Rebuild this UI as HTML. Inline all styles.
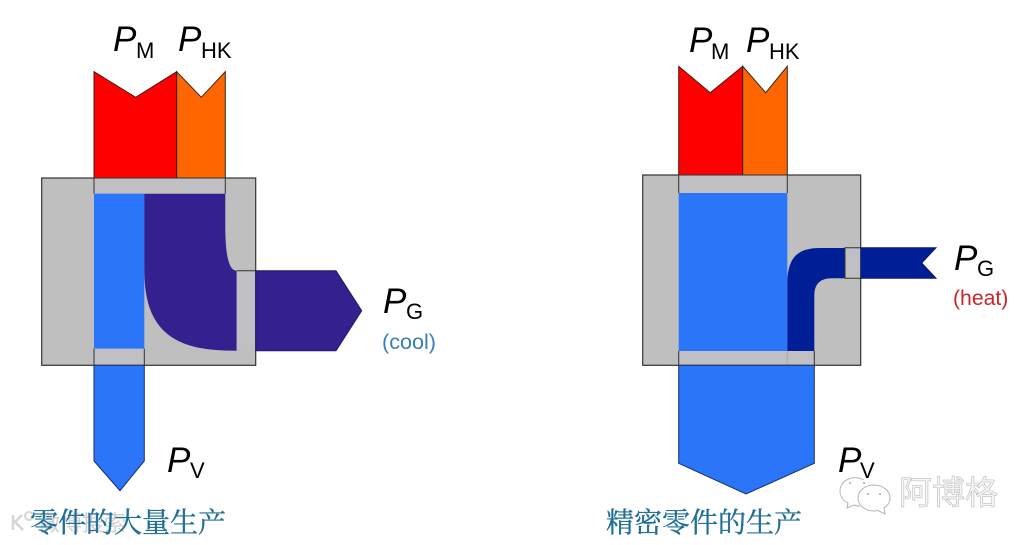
<!DOCTYPE html>
<html>
<head>
<meta charset="utf-8">
<style>
html,body{margin:0;padding:0;background:#fff}
svg{display:block}
.p{font:italic 35px "Liberation Sans",sans-serif;fill:#000}
.s{font:22px "Liberation Sans",sans-serif;fill:#000}
.t{font:28px "Liberation Serif","Noto Serif CJK SC",serif;fill:#1f6e96;stroke:#1f6e96;stroke-width:.35}
</style>
</head>
<body>
<svg width="1031" height="545" viewBox="0 0 1031 545" xmlns="http://www.w3.org/2000/svg">
<rect width="1031" height="545" fill="#fff"/>

<!-- LEFT -->
<g stroke-linejoin="miter">
<rect x="41.7" y="178" width="214" height="187.3" fill="#bfbfbf" stroke="#333" stroke-width="1.2"/>
<path d="M94 178V71.7L135.7 97.3L176.7 71.7V178Z" fill="#ff0000" stroke="#4a1a1a" stroke-width="1"/>
<path d="M176.7 178V71.7L201.3 97.3L225.3 71.7V178Z" fill="#ff6600" stroke="#33261a" stroke-width="1"/>
<rect x="94" y="178" width="131.3" height="15.7" fill="#bfbfc4"/>
<path d="M94 193.7V178H225.3V193.7" fill="none" stroke="#333" stroke-width="1"/>
<rect x="94" y="193.7" width="50.3" height="155" fill="#2b75fb"/>
<path d="M144.3 193.7H225.3V228C225.5 256 229 270.7 236.7 270.7V350.7C205 350.7 181 347 164 331C150 317 144.3 298 144.3 268Z" fill="#35208f"/>
<rect x="236.7" y="270.7" width="19" height="80" fill="#bfbfc4"/>
<path d="M236.7 270.7H255.7V350.7" fill="none" stroke="#333" stroke-width="1"/>
<path d="M255.7 270.7H336L361.7 310.7L336 350.7H255.7Z" fill="#35208f" stroke="#221a60" stroke-width="1"/>
<rect x="94" y="348.7" width="50.3" height="16.6" fill="#bfbfc4"/>
<path d="M94 348.7V365.3H144.3V348.7" fill="none" stroke="#333" stroke-width="1"/>
<path d="M94 365.3H144.3V461L120 490.7L94 461Z" fill="#2b75fb" stroke="#1a2f60" stroke-width="1"/>
</g>

<text class="p" x="113" y="51">P</text><text class="s" x="136" y="58">M</text>
<text class="p" x="178" y="51">P</text><text class="s" x="201" y="58">HK</text>
<text class="p" x="383" y="313">P</text><text class="s" x="406" y="319">G</text>
<text x="382" y="349" font-family="Liberation Sans,sans-serif" font-size="21.6" fill="#3a7fb5">(cool)</text>
<text class="p" x="167" y="472">P</text><text class="s" x="190" y="478">V</text>

<!-- left watermark -->
<path d="M13 515V530M22 515L15 522L23 530" fill="none" stroke="#d5d5d5" stroke-width="2.5"/>
<circle cx="29" cy="516" r="4" fill="none" stroke="#d5d5d5" stroke-width="2"/>
<text x="38" y="531" font-family="Liberation Sans,Noto Sans CJK SC,sans-serif" font-size="22" fill="#cfcfcf">微博搜索</text>
<text class="t" x="30" y="532">零件的大量生产</text>

<!-- RIGHT -->
<g stroke-linejoin="miter">
<rect x="642.7" y="175" width="218" height="190.3" fill="#bfbfbf" stroke="#333" stroke-width="1.2"/>
<path d="M678.7 175V66.3L710.3 92.7L742.7 66.3V175Z" fill="#ff0000" stroke="#4a1a1a" stroke-width="1"/>
<path d="M742.7 175V66.3L765.7 92.7L787.3 66.3V175Z" fill="#ff6600" stroke="#33261a" stroke-width="1"/>
<rect x="678.7" y="175" width="108.6" height="18" fill="#bfbfc4"/>
<path d="M678.7 193V175H787.3V193" fill="none" stroke="#333" stroke-width="1"/>
<rect x="678.7" y="193" width="108.6" height="158" fill="#2b75fb"/>
<path d="M787.3 351V282C788 258 797 248 820 248H845V278.3H832C820 278.3 814.3 284 814.3 296V351Z" fill="#001f96"/>
<rect x="845" y="247.7" width="15.7" height="30.6" fill="#bfbfc4"/>
<path d="M860.7 278.3H845V247.7H860.7" fill="none" stroke="#333" stroke-width="1"/>
<path d="M860.7 247.7H936L921.7 263L936 278.3H860.7Z" fill="#001f96" stroke="#0a1a60" stroke-width="1"/>
<rect x="678.7" y="351" width="135.6" height="14.3" fill="#bfbfc4"/>
<path d="M678.7 351V365.3H814.3V351" fill="none" stroke="#333" stroke-width="1"/>
<line x1="787.3" y1="351" x2="787.3" y2="365" stroke="#aaa" stroke-width="1"/>
<path d="M678.7 365.3H814.3V463.3L746 494L678.7 463.3Z" fill="#2b75fb" stroke="#1a2f60" stroke-width="1"/>
</g>

<text class="p" x="689" y="52">P</text><text class="s" x="711" y="59">M</text>
<text class="p" x="746" y="52">P</text><text class="s" x="769" y="59">HK</text>
<text class="p" x="954" y="270">P</text><text class="s" x="977" y="276">G</text>
<text x="953" y="305" font-family="Liberation Sans,sans-serif" font-size="21.2" fill="#c8262a">(heat)</text>
<text class="p" x="838" y="472">P</text><text class="s" x="860" y="478">V</text>

<text class="t" x="606" y="532">精密零件的生产</text>

<!-- WeChat watermark -->
<g fill="#fff" stroke="#b5b5b5" stroke-width="1">
<path d="M864 480C852 474 840 481 840 491C840 497 844 501 848 503L847 508L854 505C856 506 858 506 860 506"/>
<ellipse cx="874" cy="498" rx="16" ry="13"/>
<path d="M877 510L885 514L884 507"/>
</g>
<g fill="#aaa"><circle cx="850" cy="483" r="1"/><circle cx="864" cy="483" r="1"/><circle cx="868" cy="494" r="1"/><circle cx="880" cy="494" r="1"/></g>
<text x="899" y="504" font-family="Liberation Sans,Noto Sans CJK SC,sans-serif" font-size="33" fill="#f7f7f7" stroke="#b0b0b0" stroke-width="0.5">阿博格</text>
</svg>
</body>
</html>
